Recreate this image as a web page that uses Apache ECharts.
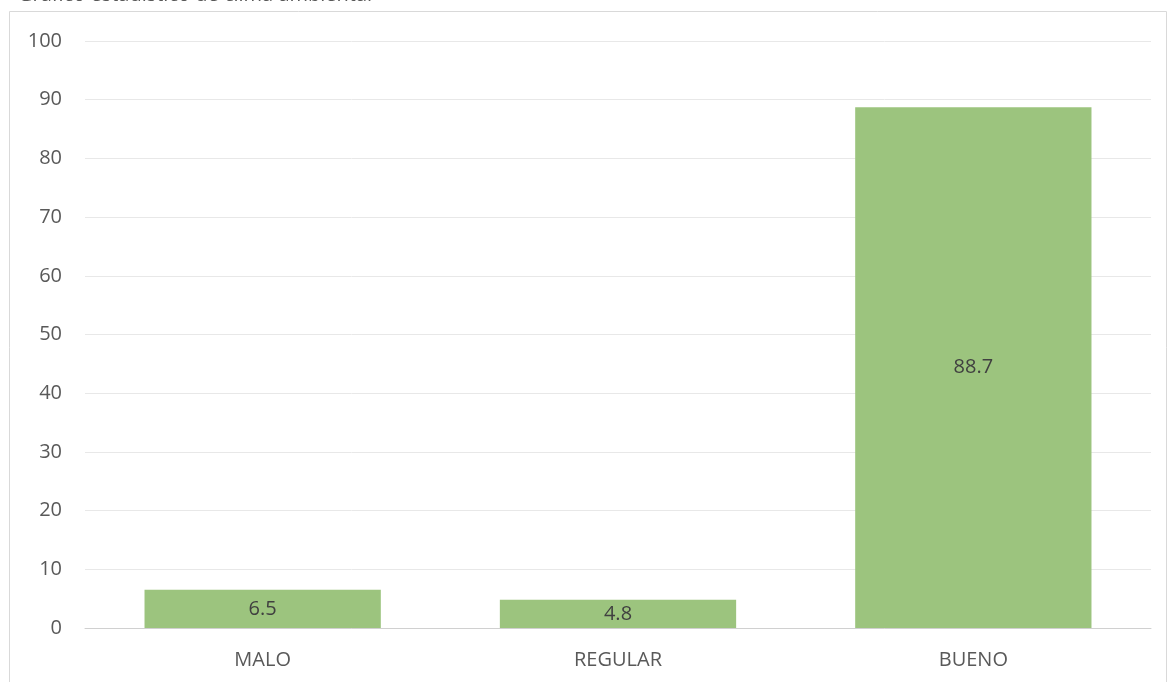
<!DOCTYPE html>
<html><head><meta charset="utf-8">
<script src="https://cdn.jsdelivr.net/npm/echarts@6/dist/echarts.min.js"></script>
<style>html,body{margin:0;padding:0;background:#fff}#c{width:1169px;height:682px}</style>
</head><body><div id="c"></div>
<script>
const categories = ['MALO', 'REGULAR', 'BUENO'];
const values = [6.5, 4.8, 88.7];
const titleText = 'Gráfico estadístico de clima ambiental';

const FONT = 'Open Sans';
const chart = echarts.init(document.getElementById('c'));
chart.setOption({
  animation: false,
  title: {text: titleText, left: 13, top: -20, textStyle: {fontFamily: FONT, fontSize: 20, fontWeight: 'normal', color: '#595959'}},
  graphic: [{type: 'rect', shape: {x: 9.5, y: 11.5, width: 1157, height: 700}, style: {fill: 'none', stroke: '#d9d9d9', lineWidth: 1}, silent: true}],
  grid: {left: 85, right: 18, top: 41, bottom: 54},
  xAxis: {type: 'category', data: categories,
    axisLine: {lineStyle: {color: '#d0d0d0', width: 1}}, axisTick: {show: false},
    axisLabel: {color: '#595959', fontSize: 20, fontFamily: FONT, margin: 22}},
  yAxis: {type: 'value', min: 0, max: 100, interval: 10,
    axisLine: {show: false}, axisTick: {show: false},
    splitLine: {lineStyle: {color: '#e8e8e8', width: 1}},
    axisLabel: {color: '#595959', fontSize: 20, fontFamily: FONT, margin: 23}},
  series: [{type: 'bar', data: values, barWidth: '66.5%', itemStyle: {color: '#9CC47E'},
    label: {show: true, position: 'inside', color: '#404040', fontSize: 20, fontFamily: FONT}}]
});
</script></body></html>
